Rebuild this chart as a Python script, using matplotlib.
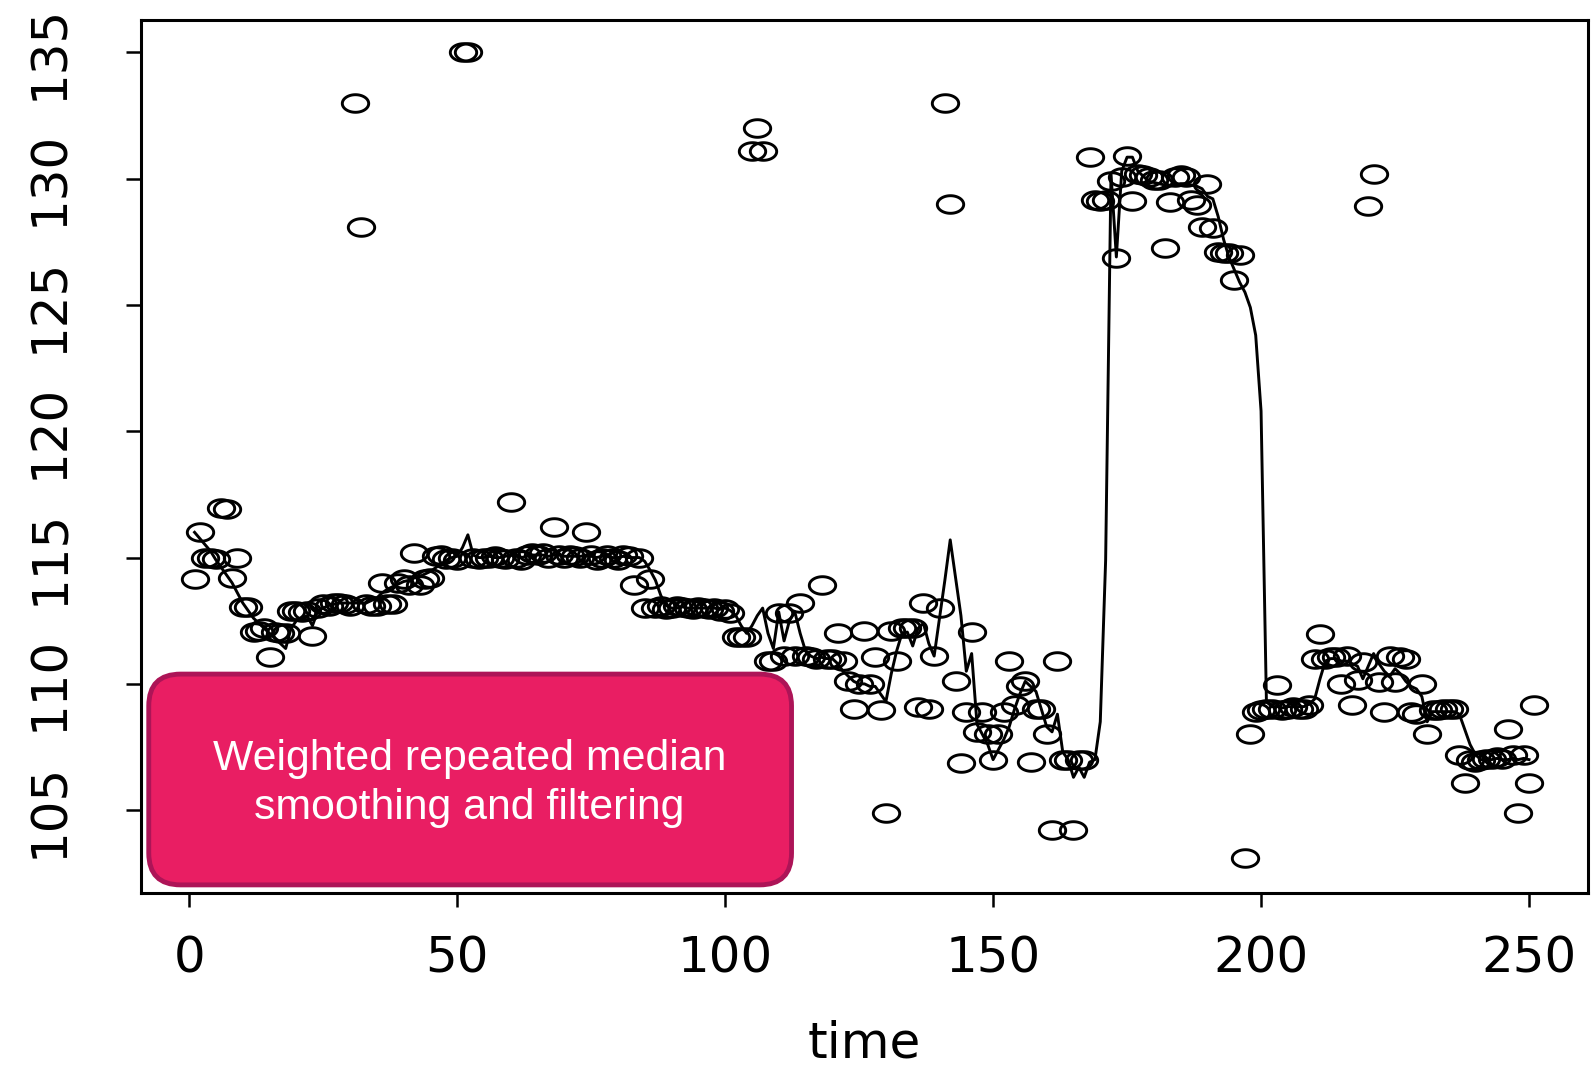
import numpy as np
import matplotlib
matplotlib.use("Agg")
import matplotlib.pyplot as plt
from matplotlib.path import Path
from matplotlib.patches import FancyBboxPatch

# observed series (t = 1..251)
values = [
    114.15, 116.0, 115.0, 115.0, 114.94, 116.98, 116.91, 114.2, 115.0, 113.03,
    113.03, 112.05, 112.1, 112.2, 111.06, 112.05, 112.0, 112.0, 112.9, 112.9,
    112.83, 112.9, 111.9, 113.0, 113.16, 113.1, 113.2, 113.2, 113.16, 113.1,
    133.0, 128.1, 113.16, 113.1, 113.1, 114.0, 113.16, 113.16, 114.0, 114.15,
    113.9, 115.2, 113.9, 114.15, 114.2, 115.07, 115.1, 114.95, 115.0, 114.9,
    135.0, 135.0, 115.0, 114.95, 115.0, 115.0, 115.05, 115.0, 114.95, 117.2,
    115.0, 114.9, 115.1, 115.2, 115.1, 115.2, 115.0, 116.2, 115.1, 115.0,
    115.1, 115.05, 115.0, 116.0, 115.1, 114.9, 115.0, 115.1, 115.0, 114.9,
    115.1, 115.05, 113.9, 115.0, 113.0, 114.15, 113.0, 113.1, 112.95, 113.0,
    113.1, 113.05, 113.0, 112.95, 113.05, 113.0, 112.95, 113.0, 112.9, 112.95,
    112.8, 111.85, 111.85, 111.85, 131.1, 132.0, 131.1, 110.9, 110.9, 112.8,
    111.1, 112.8, 111.1, 113.2, 111.1, 111.05, 111.0, 113.9, 111.0, 111.0,
    112.0, 110.9, 110.1, 109.0, 110.0, 112.1, 110.0, 111.05, 108.95, 104.9,
    112.1, 110.9, 112.2, 112.2, 112.2, 109.1, 113.2, 109.0, 111.1, 113.0,
    133.0, 129.0, 110.1, 106.85, 108.9, 112.05, 108.1, 108.9, 108.0, 107.0,
    108.0, 108.9, 110.9, 109.15, 109.9, 110.1, 106.9, 109.0, 109.0, 108.0,
    104.2, 110.9, 107.0, 107.0, 104.2, 107.0, 107.0, 130.86, 129.15, 129.1,
    129.15, 129.9, 126.85, 130.07, 130.9, 129.1, 130.2, 130.13, 130.07, 129.94,
    129.94, 127.25, 129.08, 130.07, 130.13, 130.07, 129.15, 128.95, 128.1, 129.8,
    128.03, 127.1, 127.05, 127.05, 126.0, 126.98, 103.1, 108.0, 108.9, 108.95,
    109.0, 109.0, 109.94, 108.95, 109.0, 109.1, 109.0, 109.0, 109.15, 111.0,
    111.98, 111.0, 111.06, 111.06, 110.0, 111.1, 109.15, 110.14, 110.86, 128.9,
    130.2, 110.07, 108.9, 111.1, 110.07, 111.06, 110.99, 108.9, 108.8, 110.0,
    108.03, 108.95, 108.95, 109.0, 109.0, 109.0, 107.17, 106.06, 106.98, 106.91,
    106.98, 107.04, 107.04, 107.11, 107.04, 108.23, 107.17, 104.87, 107.17, 106.06,
    109.15,
]

# smoothed curve (t = 1..250)
smooth = [
    116.0, 115.75, 115.5, 115.25, 114.9, 114.6, 114.3, 114.0, 113.6, 113.2,
    112.9, 112.6, 112.4, 112.2, 112.0, 111.8, 111.6, 111.4, 112.2, 112.5,
    112.6, 112.7, 112.3, 112.9, 113.0, 113.1, 113.15, 113.2, 113.2, 113.2,
    113.2, 113.2, 113.2, 113.3, 113.4, 113.6, 113.75, 113.85, 113.95, 114.05,
    114.1, 114.2, 114.25, 114.35, 114.45, 114.6, 114.75, 114.9, 115.0, 115.05,
    115.4, 115.9, 115.1, 115.0, 115.0, 115.05, 115.0, 115.0, 115.05, 115.1,
    115.05, 115.0, 115.05, 115.1, 115.1, 115.1, 115.05, 115.1, 115.1, 115.05,
    115.05, 115.05, 115.05, 115.1, 115.05, 115.0, 115.05, 115.05, 115.0, 115.0,
    115.05, 115.0, 115.0, 115.0, 114.85, 114.5, 114.1, 113.5, 113.1, 113.0,
    113.0, 113.05, 113.0, 113.0, 113.0, 113.0, 113.0, 113.0, 112.95, 113.0,
    112.9, 112.7, 112.3, 112.0, 112.3, 112.7, 113.0, 112.0, 111.4, 112.85,
    111.7, 112.5, 112.85, 112.0, 111.3, 111.1, 111.0, 111.05, 111.0, 111.0,
    110.8, 110.5, 110.3, 110.1, 110.0, 110.0, 109.9, 109.9, 109.6, 109.3,
    110.4, 111.3, 112.0, 112.05, 111.5, 112.2, 112.4, 111.6, 111.1, 112.6,
    114.1, 115.7, 114.2, 112.7, 110.5, 111.2, 108.4, 108.0, 107.6, 107.0,
    107.4, 107.8, 108.3, 109.0, 109.6, 110.1, 109.9, 109.7, 109.0, 108.3,
    108.1, 108.8, 107.3, 107.0, 106.3, 106.7, 106.3, 106.9, 107.0, 108.5,
    114.9, 130.2, 126.9, 130.3, 130.85, 130.85, 130.3, 130.1, 129.9, 129.85,
    129.8, 129.75, 129.7, 129.75, 129.8, 129.8, 129.75, 129.7, 129.6, 129.3,
    129.2, 128.5, 127.6, 126.9, 126.4, 125.9, 125.5, 124.9, 123.8, 120.8,
    109.3, 109.1, 109.1, 109.05, 109.1, 109.1, 109.1, 109.1, 109.2, 109.4,
    110.2, 110.9, 111.0, 111.0, 110.9, 110.9, 110.8, 110.7, 110.2, 110.7,
    111.2, 110.8, 110.5, 110.3, 110.6, 110.4, 110.1, 109.9, 109.8, 109.5,
    108.5, 108.9, 108.9, 108.9, 108.9, 108.9, 108.8, 108.2, 107.6, 107.2,
    107.0, 107.0, 107.0, 107.05, 107.0, 107.0, 107.05, 107.0, 107.05, 107.0,
]

time = np.arange(1, len(values) + 1)
xticks = [0, 50, 100, 150, 200, 250]
yticks = [105, 110, 115, 120, 125, 130, 135]
note = "Weighted repeated median\nsmoothing and filtering"

# the original picture is stretched sideways, so the circles are ellipses
ang = np.linspace(0, 2 * np.pi, 60)
ellipse = Path(np.column_stack([1.5 * np.cos(ang), np.sin(ang)]), closed=True)

fig = plt.figure(figsize=(15.91, 10.70), dpi=100)
ax = fig.add_axes([0.0886, 0.1654, 0.9095, 0.8159])

ax.plot(time[:len(smooth)], smooth, color="black", lw=2.1, zorder=2)
ax.plot(time, values, ls="none", marker=ellipse, ms=19, mfc="none",
        mec="black", mew=2.1, zorder=3)

ax.set_xlim(-9, 261)
ax.set_ylim(101.72, 136.28)
ax.set_xticks(xticks)
ax.set_yticks(yticks)
ax.set_xticklabels([str(v) for v in xticks], fontsize=36, family="DejaVu Sans")
ax.set_yticklabels([str(v) for v in yticks], fontsize=36, family="DejaVu Sans",
                   rotation=90, va="center")
ax.tick_params(axis="x", length=10, width=1.8, pad=20)
ax.tick_params(axis="y", length=11, width=1.8, pad=38)
for s in ax.spines.values():
    s.set_linewidth(2.2)

ax.set_xlabel("time", fontsize=36, family="DejaVu Sans")
ax.xaxis.set_label_coords(0.5, -0.145)

box = FancyBboxPatch((0.0935, 0.173), 0.404, 0.197,
                     boxstyle="round,pad=0,rounding_size=0.02",
                     mutation_aspect=1591 / 1070,
                     transform=fig.transFigure, facecolor="#E91E63",
                     edgecolor="#AD1457", lw=3.5, zorder=5)
fig.patches.append(box)
fig.text(0.295, 0.268, note, ha="center", va="center", color="white",
         fontsize=30.8, family="Liberation Sans", linespacing=1.3, zorder=6)

fig.savefig("out.png", dpi=100)
